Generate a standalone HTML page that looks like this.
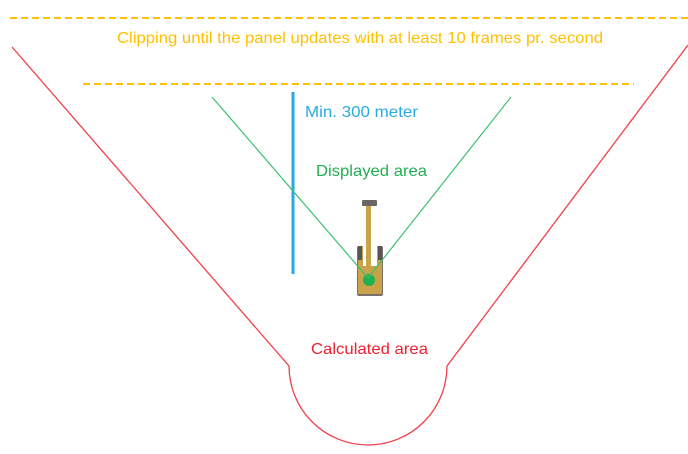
<!DOCTYPE html>
<html><head><meta charset="utf-8"><style>
html,body{margin:0;padding:0;background:#fff;width:688px;height:454px;overflow:hidden}
svg{display:block}
text{font-family:"Liberation Sans",sans-serif}
</style></head><body>
<svg width="688" height="454" viewBox="0 0 688 454" xmlns="http://www.w3.org/2000/svg">
<line x1="10" y1="18" x2="688" y2="18" stroke="#ffc000" stroke-width="2" stroke-dasharray="7,4"/>
<line x1="83" y1="84" x2="634" y2="84" stroke="#ffc000" stroke-width="2" stroke-dasharray="7,4"/>
<text x="360" y="43" text-anchor="middle" font-size="16" fill="#ffc000" textLength="486" lengthAdjust="spacingAndGlyphs">Clipping until the panel updates with at least 10 frames pr. second</text>
<path d="M12 47 L289 366 A79 79 0 0 0 447 366 L688 45" fill="none" stroke="#f0404a" stroke-width="1.3"/>
<text x="311" y="354" font-size="16" fill="#f02030" textLength="117" lengthAdjust="spacingAndGlyphs">Calculated area</text>
<line x1="293" y1="92" x2="293" y2="274" stroke="#29aae1" stroke-width="3"/>
<text x="305" y="117" font-size="16" fill="#29aae1" textLength="113" lengthAdjust="spacingAndGlyphs">Min. 300 meter</text>
<text x="316" y="176" font-size="16" fill="#22b050" textLength="111" lengthAdjust="spacingAndGlyphs">Displayed area</text>
<!-- excavator -->
<rect x="357" y="246" width="26" height="50" fill="#7a7070" rx="2"/>
<rect x="358" y="246" width="24" height="48" fill="#c9a24a"/>
<rect x="363" y="246" width="14" height="20" fill="#fff"/>
<rect x="358" y="246" width="4" height="14" fill="#5a5555"/>
<rect x="378" y="246" width="4" height="14" fill="#5a5555"/>
<rect x="366" y="206" width="5" height="60" fill="#c9a24a"/>
<rect x="362" y="200" width="15" height="6" fill="#6a6666" rx="1"/>
<circle cx="369" cy="280" r="6" fill="#1fb050"/>
<path d="M212 97 L368 278 L511 97" fill="none" stroke="#3cc070" stroke-width="1.2"/>
</svg>
</body></html>
